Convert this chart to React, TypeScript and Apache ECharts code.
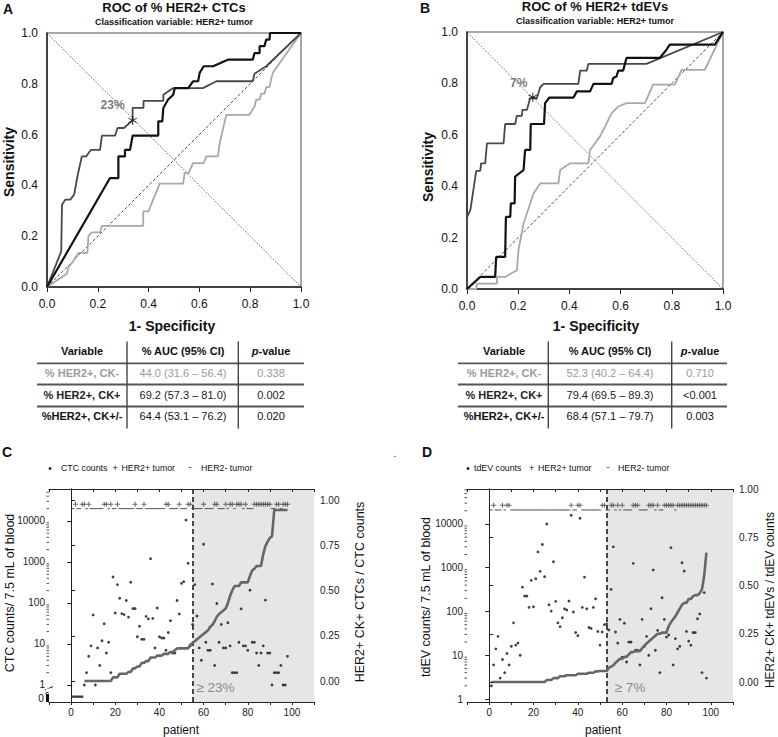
import React, { useEffect, useRef } from 'react';
import * as echarts from 'echarts';

const FONT = '"Liberation Sans", Arial, Helvetica, sans-serif';

// ---------- ROC data: [1 - specificity, sensitivity] corner points ----------
const rocA_ckNeg = [[0,0],[0.078,0.052],[0.085,0.081],[0.098,0.094],[0.111,0.114],[0.124,0.134],[0.159,0.134],[0.163,0.2],[0.176,0.215],[0.209,0.215],[0.216,0.241],[0.379,0.241],[0.379,0.298],[0.399,0.298],[0.418,0.344],[0.444,0.407],[0.536,0.407],[0.542,0.449],[0.558,0.449],[0.575,0.488],[0.617,0.488],[0.627,0.514],[0.673,0.514],[0.68,0.567],[0.706,0.678],[0.797,0.678],[0.817,0.711],[0.824,0.738],[0.837,0.738],[0.843,0.761],[0.856,0.761],[0.863,0.787],[0.876,0.787],[0.882,0.816],[0.889,0.843],[0.902,0.862],[1,1]];
const rocA_ckPos = [[0,0],[0.056,0.14],[0.059,0.324],[0.072,0.344],[0.092,0.344],[0.107,0.364],[0.12,0.436],[0.137,0.514],[0.154,0.514],[0.173,0.54],[0.209,0.54],[0.216,0.596],[0.268,0.596],[0.278,0.626],[0.303,0.626],[0.337,0.656],[0.337,0.705],[0.38,0.705],[0.38,0.733],[0.458,0.733],[0.458,0.757],[0.497,0.783],[0.614,0.783],[0.667,0.81],[0.81,0.81],[0.817,0.84],[0.863,0.869],[1,1]];
const rocA_ckAll = [[0,0],[0.248,0.429],[0.281,0.429],[0.281,0.514],[0.307,0.514],[0.307,0.54],[0.327,0.54],[0.337,0.596],[0.438,0.596],[0.438,0.652],[0.454,0.652],[0.458,0.705],[0.477,0.738],[0.497,0.757],[0.503,0.783],[0.556,0.783],[0.575,0.81],[0.595,0.81],[0.601,0.843],[0.617,0.869],[0.654,0.869],[0.712,0.895],[0.81,0.895],[0.817,0.921],[0.837,0.921],[0.837,0.948],[0.856,0.948],[0.863,0.974],[0.876,0.974],[0.878,1],[1,1]];
const rocB_ckNeg = [[0,0],[0.036,0],[0.039,0.021],[0.117,0.021],[0.117,0.047],[0.149,0.047],[0.195,0.073],[0.201,0.151],[0.221,0.255],[0.234,0.294],[0.247,0.333],[0.26,0.372],[0.286,0.411],[0.357,0.411],[0.364,0.463],[0.403,0.489],[0.474,0.489],[0.481,0.541],[0.5,0.567],[0.519,0.593],[0.539,0.632],[0.565,0.684],[0.591,0.71],[0.623,0.723],[0.695,0.723],[0.727,0.795],[0.812,0.795],[0.838,0.853],[0.929,0.853],[1,1]];
const rocB_ckPos = [[0,0],[0,0.28],[0.013,0.307],[0.019,0.346],[0.036,0.46],[0.052,0.46],[0.055,0.489],[0.071,0.489],[0.078,0.567],[0.143,0.567],[0.149,0.642],[0.188,0.642],[0.195,0.674],[0.214,0.674],[0.217,0.697],[0.234,0.697],[0.247,0.743],[0.273,0.743],[0.286,0.785],[0.299,0.798],[0.435,0.798],[0.442,0.85],[0.468,0.85],[0.474,0.876],[0.701,0.876],[1,1]];
const rocB_ckAll = [[0,0],[0.052,0.047],[0.11,0.047],[0.114,0.125],[0.149,0.125],[0.152,0.281],[0.169,0.281],[0.171,0.333],[0.186,0.333],[0.188,0.437],[0.221,0.463],[0.227,0.541],[0.247,0.541],[0.249,0.642],[0.301,0.642],[0.305,0.723],[0.322,0.745],[0.416,0.745],[0.429,0.769],[0.481,0.769],[0.494,0.798],[0.565,0.798],[0.571,0.821],[0.584,0.827],[0.591,0.85],[0.61,0.85],[0.623,0.899],[0.753,0.899],[0.779,0.931],[0.792,0.951],[0.968,0.951],[1,1]];
const cutoffA = [0.337, 0.656];
const cutoffALabel = '23%';
const cutoffB = [0.257, 0.746];
const cutoffBLabel = '7%';

// ---------- tables ----------
const tableHeader = ['Variable', '% AUC (95% CI)', 'p-value'];
const tableARows = [
  ['% HER2+, CK-', '44.0 (31.6 – 56.4)', '0.338'],
  ['% HER2+, CK+', '69.2 (57.3 – 81.0)', '0.002'],
  ['%HER2+, CK+/-', '64.4 (53.1 – 76.2)', '0.020'],
];
const tableBRows = [
  ['% HER2+, CK-', '52.3 (40.2 – 64.4)', '0.710'],
  ['% HER2+, CK+', '79.4 (69.5 – 89.3)', '<0.001'],
  ['%HER2+, CK+/-', '68.4 (57.1 – 79.7)', '0.003'],
];

// ---------- panel C (patients 1..98) ----------
const ctcCounts = [0,0,0,0,0,1,2,5,9,51,1,8,3,12,31,6,11,2,430,57,280,130,55,52,115,45,320,73,73,15,27,13,13,47,41,1200,42,8,75,15,14,14,7,19,37,6,6,115,54,300,330,10500,930,9,30,280,48,8,4,2700,11,7,7,290,3,97,11,30,8,8,33,9,2,2,2,11,72,9,9,7,205,11,11,6,3,6,9,117,6,6,1,2,2,2,3,1,1,5];
const ctcHer2Pos = [2,5,6,8,15,16,18,21,29,33,43,44,49,53,54,60,65,66,70,72,73,75,76,77,79,83,84,85,86,87,88,89,90,93,94,96,97,98];
const ctcFractionStart = 6;
const ctcFraction = [0,0,0,0,0,0,0,0,0,0,0,0,0,0.02,0.02,0.02,0.04,0.04,0.04,0.04,0.05,0.05,0.07,0.07,0.08,0.08,0.1,0.1,0.11,0.11,0.13,0.13,0.13,0.14,0.14,0.14,0.15,0.15,0.15,0.16,0.16,0.17,0.18,0.18,0.18,0.18,0.18,0.18,0.2,0.21,0.22,0.23,0.24,0.25,0.26,0.27,0.28,0.3,0.31,0.33,0.355,0.37,0.38,0.39,0.4,0.43,0.47,0.5,0.525,0.525,0.525,0.545,0.545,0.545,0.545,0.58,0.61,0.62,0.635,0.635,0.635,0.7,0.745,0.77,0.79,0.8,0.945,0.945,0.945,0.945,0.945,0.945,0.945];
const ctcCutoffPatient = 55;

// ---------- panel D ----------
const tdevCounts = [2,6,14,27,3,8,4,11,6,16,55,17,19,10,360,225,225,124,515,128,560,2300,825,3400,625,10000,142,102,1370,170,55,45,72,115,108,173,15800,97,33,28,13500,124,610,115,43,41,124,195,35,17,34,50,52,38,320,3000,34,19,66,9,54,7,20,20,1260,13,13,6,66,16,27,10,116,890,13,37,4,206,66,26,29,2880,6,24,14,16,1300,840,35,21,17,33,33,68,88,4,270,3];
const tdevHer2Pos = [2,6,8,9,37,40,41,51,52,55,56,58,60,65,66,67,72,73,74,76,79,80,81,82,83,85,86,87,88,89,90,91,92,93,94,95,96,97,98];
const tdevFractionStart = 1;
const tdevFraction = [0,0,0,0,0,0,0,0,0,0,0,0,0,0,0,0,0,0,0,0,0,0,0,0,0,0.01,0.01,0.01,0.02,0.02,0.02,0.03,0.03,0.03,0.035,0.035,0.035,0.035,0.035,0.043,0.043,0.043,0.043,0.043,0.048,0.048,0.048,0.055,0.055,0.057,0.057,0.057,0.057,0.074,0.08,0.086,0.1,0.11,0.12,0.12,0.13,0.13,0.143,0.155,0.155,0.16,0.16,0.16,0.175,0.187,0.2,0.21,0.22,0.23,0.24,0.25,0.25,0.256,0.256,0.256,0.29,0.31,0.325,0.34,0.36,0.38,0.4,0.41,0.41,0.43,0.43,0.445,0.45,0.45,0.46,0.48,0.55,0.67];
const tdevCutoffPatient = 53;

// log-axis minor tick multipliers
const logMinorMultipliers = [2, 3, 4, 5, 6, 7, 8, 9];
const logDecades = [1, 10, 100, 1000, 10000];

const PLUS = 'path://M2,0H3V2H5V3H3V5H2V3H0V2H2Z';
const STAR = 'path://M4.4,0L5.6,0L5.6,10L4.4,10Z M9.03,1.98L9.63,3.02L0.97,8.02L0.37,6.98Z M9.63,6.98L9.03,8.02L0.37,3.02L0.97,1.98Z';

function T(x: number, y: number, text: string, o: any = {}) {
  return {
    type: 'text', x, y, rotation: o.rot || 0, silent: true, z: 100,
    style: {
      text,
      font: `${o.italic ? 'italic ' : ''}${o.bold ? 'bold ' : ''}${o.size || 11}px ${FONT}`,
      fill: o.color || '#111',
      textAlign: o.align || 'center',
      textVerticalAlign: 'middle',
    },
  };
}
function L(x1: number, y1: number, x2: number, y2: number, color = '#444', w = 1.5) {
  return { type: 'line', silent: true, z: 100, shape: { x1, y1, x2, y2 }, style: { stroke: color, lineWidth: w } };
}

function table(rows: string[][], cols: number[], xl: number, xr: number, vx: number[]) {
  const els: any[] = [];
  const rowY = [372.7, 395, 416];
  const rowColor = ['#9a9a9a', '#222', '#111'];
  els.push(T(cols[0], 350.7, tableHeader[0], { bold: true }));
  els.push(T(cols[1], 350.7, tableHeader[1], { bold: true }));
  els.push({
    type: 'text', x: cols[2], y: 350.7, silent: true, z: 100,
    style: {
      text: '{i|p}{b|-value}', textAlign: 'center', textVerticalAlign: 'middle',
      rich: {
        i: { fontStyle: 'italic', fontWeight: 'bold', fontSize: 11, fontFamily: FONT, fill: '#111' },
        b: { fontWeight: 'bold', fontSize: 11, fontFamily: FONT, fill: '#111' },
      },
    },
  });
  rows.forEach((r, i) => {
    els.push(T(cols[0], rowY[i], r[0], { bold: true, color: rowColor[i] }));
    els.push(T(cols[1], rowY[i], r[1], { color: rowColor[i] }));
    els.push(T(cols[2], rowY[i], r[2], { color: rowColor[i] }));
  });
  [363.3, 384.5, 406.5].forEach((y) => els.push(L(xl, y, xr, y, '#555', 1.8)));
  vx.forEach((x) => els.push(L(x, 341.5, x, 428.5, '#444', 1.4)));
  return els;
}

function rocAxes(gi: number) {
  const x = {
    gridIndex: gi, type: 'value', min: 0, max: 1, interval: 0.2,
    axisLine: { show: true, lineStyle: { color: '#222', width: 1.5 } },
    axisTick: { show: true, length: 5, lineStyle: { color: '#222', width: 1 } },
    axisLabel: { fontSize: 12, color: '#111', margin: 11, fontFamily: FONT, formatter: (v: number) => v.toFixed(1) },
    splitLine: { show: false },
  };
  const y = {
    gridIndex: gi, type: 'value', min: 0, max: 1, interval: 0.2,
    axisLine: { show: true, lineStyle: { color: '#222', width: 1.5 } },
    axisTick: { show: false },
    axisLabel: { fontSize: 12, color: '#111', margin: 9, fontFamily: FONT, formatter: (v: number) => v.toFixed(1) },
    splitLine: { show: false },
  };
  return { x, y };
}

function rocSeries(ai: number, neg: number[][], pos: number[][], all: number[][], cut: number[], lab: string, off: number[]) {
  const base = { type: 'line', xAxisIndex: ai, yAxisIndex: ai, symbol: 'none', silent: true, clip: false };
  return [
    { ...base, data: [[0, 0], [1, 1]], lineStyle: { color: '#222', width: 0.8, type: [3, 2] } },
    { ...base, data: [[0, 1], [1, 0]], lineStyle: { color: '#222', width: 0.8, type: [1, 1.5] } },
    { ...base, data: neg, lineStyle: { color: '#a8a8a8', width: 1.8 } },
    { ...base, data: pos, lineStyle: { color: '#484848', width: 1.8 } },
    { ...base, data: all, lineStyle: { color: '#111', width: 2.2 } },
    {
      type: 'scatter', xAxisIndex: ai, yAxisIndex: ai, data: [cut], symbol: STAR, symbolSize: 9, silent: true,
      itemStyle: { color: '#111' }, z: 5,
      label: { show: true, formatter: lab, position: 'inside', offset: off, color: '#555', fontSize: 12, fontWeight: 'bold', fontFamily: FONT },
    },
  ];
}

const logFmt = (v: number) => {
  const l = Math.log10(v);
  const r = Math.round(l);
  return Math.abs(l - r) < 1e-6 && r >= 0 ? String(Math.round(Math.pow(10, r))) : '';
};

function countPanel(gMain: number, gRight: number, xB: number, xH: number, yL: number, yR: number,
  counts: number[], her2: number[], frac: number[], fracStart: number, cutoff: number, logMin: number, logMax: number,
  zeroLevel: number, plusLevel: number, dashLevel: number) {
  const xCommon = { type: 'value', min: -10, max: 110, interval: 10, splitLine: { show: false } };
  const xAxes = [
    { ...xCommon, gridIndex: gMain, position: 'bottom', z: 10,
      axisLine: { show: true, lineStyle: { color: '#222', width: 1 } },
      axisTick: { show: true, length: 3, lineStyle: { color: '#222' } },
      axisLabel: { fontSize: 10, color: '#222', margin: 5, fontFamily: FONT,
        formatter: (v: number) => (v >= 0 && v <= 100 && v % 20 === 0 ? String(v) : '') } },
    { ...xCommon, gridIndex: gMain, position: 'top', z: 10,
      axisLine: { show: true, lineStyle: { color: '#222', width: 1 } },
      axisTick: { show: true, inside: true, length: 3, lineStyle: { color: '#222' } },
      axisLabel: { show: false } },
    { ...xCommon, gridIndex: gRight, show: false },
  ];
  const yAxes = [
    { gridIndex: gMain, type: 'log', logBase: 10, min: logMin, max: logMax, position: 'left', z: 10,
      axisLine: { show: true, lineStyle: { color: '#222', width: 1 } },
      axisTick: { show: true, length: 4, lineStyle: { color: '#222' } },
      axisLabel: { fontSize: 10, color: '#222', margin: 4, fontFamily: FONT, formatter: logFmt },
      splitLine: { show: false } },
    { gridIndex: gMain, type: 'value', min: 0, max: 1, position: 'right', z: 10,
      axisLine: { show: true, lineStyle: { color: '#222', width: 1 } },
      axisTick: { show: false }, axisLabel: { show: false }, splitLine: { show: false } },
    { gridIndex: gRight, type: 'value', min: 0, max: 1, interval: 0.25, position: 'right', z: 10,
      axisLine: { show: false },
      axisTick: { show: true, length: 4, lineStyle: { color: '#222' } },
      axisLabel: { fontSize: 10, color: '#222', margin: 6, fontFamily: FONT, formatter: (v: number) => v.toFixed(2) },
      splitLine: { show: false } },
  ];
  const patients = counts.map((_, i) => i + 1);
  const minorVals: number[] = [];
  logDecades.forEach((d) => logMinorMultipliers.forEach((m) => { if (d * m < logMax) minorVals.push(d * m); }));
  const series = [
    {
      type: 'scatter', xAxisIndex: xB, yAxisIndex: yL, silent: true, z: 4,
      data: counts.map((v, i) => [i + 1, v === 0 ? zeroLevel : v]),
      symbol: 'circle', symbolSize: 2.8, itemStyle: { color: '#111' },
      markArea: { silent: true, itemStyle: { color: '#e6e6e6' }, data: [[{ xAxis: cutoff }, { xAxis: 110 }]] },
      markLine: { silent: true, symbol: ['none', 'none'], label: { show: false },
        lineStyle: { color: '#111', type: [5, 3], width: 1.5 }, data: [{ xAxis: cutoff }] },
    },
    {
      type: 'scatter', xAxisIndex: xB, yAxisIndex: yL, silent: true, z: 5,
      data: patients.filter((p) => her2.includes(p)).map((p) => [p, plusLevel]),
      symbol: PLUS, symbolSize: 5, itemStyle: { color: '#444' },
    },
    {
      type: 'scatter', xAxisIndex: xB, yAxisIndex: yL, silent: true, z: 5,
      data: patients.filter((p) => !her2.includes(p)).map((p) => [p, dashLevel]),
      symbol: 'rect', symbolSize: [2.6, 1.1], itemStyle: { color: '#444' },
    },
    {
      type: 'line', xAxisIndex: xH, yAxisIndex: yR, silent: true, z: 6, clip: false,
      data: frac.map((v, i) => [i + fracStart, v]), symbol: 'none',
      lineStyle: { color: '#666', width: 2.6 },
    },
    {
      // minor ticks of the log axis (2..9 within each decade)
      type: 'custom', xAxisIndex: xB, yAxisIndex: yL, silent: true, z: 11, clip: false,
      data: minorVals.map((v) => [-10, v]),
      renderItem: (params: any, api: any) => {
        const p = api.coord([api.value(0), api.value(1)]);
        return { type: 'line', shape: { x1: p[0] - 2.5, y1: p[1], x2: p[0], y2: p[1] }, style: { stroke: '#222', lineWidth: 0.8 } };
      },
    },
  ];
  return { xAxes, yAxes, series };
}

export default function App() {
  const ref = useRef<HTMLDivElement>(null);
  useEffect(() => {
    if (!ref.current) return;
    const chart = echarts.init(ref.current, null, { renderer: 'svg' });
    const A = rocAxes(0);
    const B = rocAxes(1);
    const C = countPanel(2, 3, 2, 4, 2, 4, ctcCounts, ctcHer2Pos, ctcFraction, ctcFractionStart, ctcCutoffPatient,
      0.385, 60000, 0.52, 25500, 20000);
    const D = countPanel(4, 5, 5, 7, 5, 7, tdevCounts, tdevHer2Pos, tdevFraction, tdevFractionStart, tdevCutoffPatient,
      0.854, 63000, 1, 26700, 20900);

    const graphic: any[] = [
      T(8, 9, 'A', { bold: true, size: 14 }),
      T(425, 8, 'B', { bold: true, size: 14 }),
      T(7, 452, 'C', { bold: true, size: 14 }),
      T(427, 452, 'D', { bold: true, size: 14 }),
      T(395, 453, '.', { size: 10 }),
      T(174, 7, 'ROC of % HER2+ CTCs', { bold: true, size: 13 }),
      T(174, 21.5, 'Classification variable: HER2+ tumor', { bold: true, size: 9 }),
      T(595, 6, 'ROC of % HER2+ tdEVs', { bold: true, size: 13 }),
      T(595, 20.5, 'Classification variable: HER2+ tumor', { bold: true, size: 9 }),
      T(8.5, 162, 'Sensitivity', { bold: true, size: 14, rot: Math.PI / 2 }),
      T(428, 167, 'Sensitivity', { bold: true, size: 14, rot: Math.PI / 2 }),
      T(172, 326, '1- Specificity', { bold: true, size: 14 }),
      T(596, 326, '1- Specificity', { bold: true, size: 14 }),
      ...table(tableARows, [82, 183, 271], 37, 304, [127, 238.3]),
      ...table(tableBRows, [504, 610, 700], 458, 727, [548.3, 671.7]),
      // legends
      T(50, 468, '•', { size: 10 }),
      T(61, 468, 'CTC counts', { size: 8.8, align: 'left' }),
      T(115, 468, '+', { size: 9 }),
      T(121.5, 468, 'HER2+ tumor', { size: 8.8, align: 'left' }),
      T(190, 467, '-', { size: 9 }),
      T(201, 468, 'HER2- tumor', { size: 8.8, align: 'left' }),
      T(468, 468, '•', { size: 10 }),
      T(474, 468, 'tdEV counts', { size: 8.8, align: 'left' }),
      T(531.7, 468, '+', { size: 9 }),
      T(538, 468, 'HER2+ tumor', { size: 8.8, align: 'left' }),
      T(608, 467, '-', { size: 9 }),
      T(618, 468, 'HER2- tumor', { size: 8.8, align: 'left' }),
      // axis names
      T(10, 593, 'CTC counts/ 7.5 mL of blood', { size: 12.5, rot: Math.PI / 2 }),
      T(360, 592, 'HER2+ CK+ CTCs / CTC counts', { size: 12.5, rot: Math.PI / 2 }),
      T(426, 597, 'tdEV counts/ 7.5 mL of blood', { size: 12.5, rot: Math.PI / 2 }),
      T(770, 600, 'HER2+ CK+ tdEVs / tdEV counts', { size: 12, rot: Math.PI / 2 }),
      T(181, 730, 'patient', { size: 12 }),
      T(603, 730, 'patient', { size: 12 }),
      T(215.5, 687, '≥ 23%', { size: 13.5, color: '#8a8a8a' }),
      T(630, 687, '≥ 7%', { size: 13.5, color: '#8a8a8a' }),
      // zero label and axis break in C
      T(41, 698, '0', { size: 10 }),
      { type: 'rect', silent: true, z: 101, shape: { x: 46, y: 688.5, width: 7, height: 3.5 }, style: { fill: '#fff' } },
      L(45, 690, 53, 686.5, '#222', 1),
      L(45, 693.5, 53, 690, '#222', 1),
      { type: 'rect', silent: true, z: 101, shape: { x: 46, y: 694, width: 3, height: 8 }, style: { fill: '#111' } },
    ];

    const option: any = {
      animation: false,
      backgroundColor: '#fff',
      textStyle: { fontFamily: FONT },
      grid: [
        { left: 47, top: 33, width: 254, height: 254, show: true, borderColor: '#8a8a8a', borderWidth: 1.5, outerBoundsMode: 'none' },
        { left: 467, top: 32, width: 256, height: 257, show: true, borderColor: '#8a8a8a', borderWidth: 1.5, outerBoundsMode: 'none' },
        { left: 49, top: 489, width: 265, height: 213, outerBoundsMode: 'none' },
        { left: 49, top: 500, width: 265, height: 181, outerBoundsMode: 'none' },
        { left: 467, top: 489, width: 266, height: 213, outerBoundsMode: 'none' },
        { left: 467, top: 489, width: 266, height: 193, outerBoundsMode: 'none' },
      ],
      xAxis: [A.x, B.x, ...C.xAxes, ...D.xAxes],
      yAxis: [A.y, B.y, ...C.yAxes, ...D.yAxes],
      series: [
        ...rocSeries(0, rocA_ckNeg, rocA_ckPos, rocA_ckAll, cutoffA, cutoffALabel, [-20, -15]),
        ...rocSeries(1, rocB_ckNeg, rocB_ckPos, rocB_ckAll, cutoffB, cutoffBLabel, [-14, -14]),
        ...C.series,
        ...D.series,
      ],
      graphic,
    };
    chart.setOption(option);
    return () => chart.dispose();
  }, []);
  return <div ref={ref} style={{ position: 'absolute', left: 0, top: 0, width: 778, height: 737 }} />;
}
